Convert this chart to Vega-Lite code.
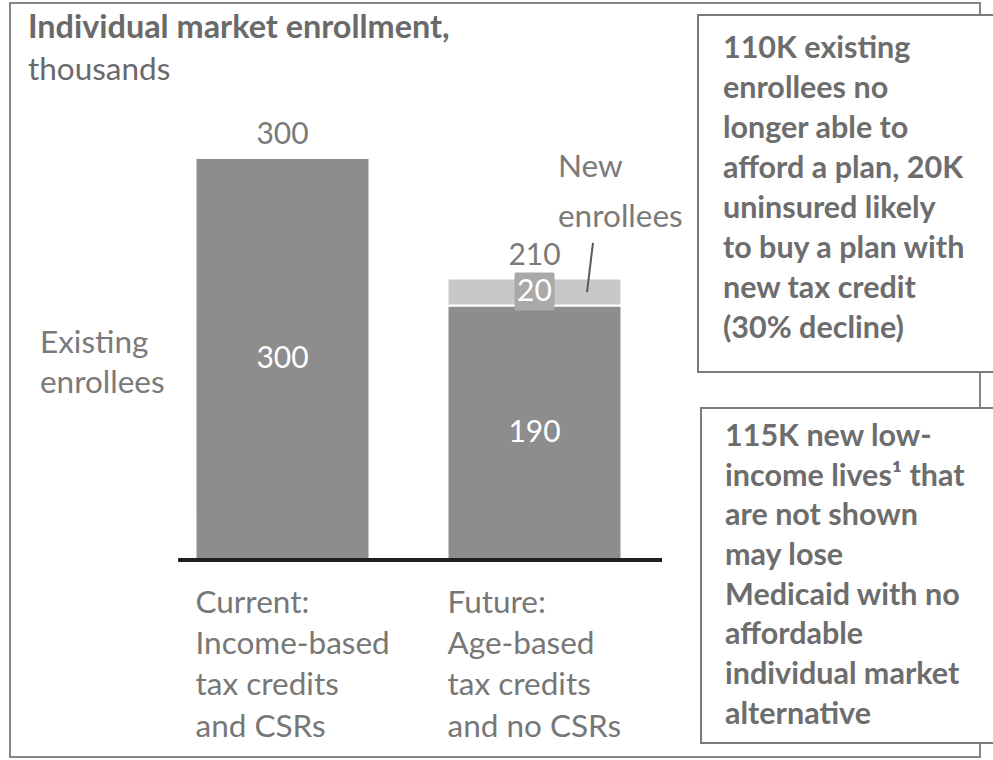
{
  "$schema": "https://vega.github.io/schema/vega-lite/v6.json",
  "autosize": {"type": "none"},
  "padding": {"left": 10, "top": 3, "right": 13, "bottom": 3},
  "background": "white",
  "width": 970,
  "height": 754,
  "config": {
    "view": {"stroke": "#858585", "strokeWidth": 2, "fill": "white"},
    "font": "Lato",
    "text": {"font": "Lato"}
  },
  "datasets": {
    "bars": [
      {"scenario": "Current", "segment": "Existing enrollees", "value": 300},
      {"scenario": "Future", "segment": "Existing enrollees", "value": 190},
      {"scenario": "Future", "segment": "New enrollees", "value": 20}
    ],
    "notes": [
      {"id": "title", "text": "Individual market enrollment,"},
      {"id": "unit", "text": "thousands"},
      {"id": "existing", "text": "Existing\nenrollees"},
      {"id": "new", "text": "New\nenrollees"}
    ],
    "cats": [
      {"scenario": "Current", "label": "Current:\nIncome-based\ntax credits\nand CSRs"},
      {"scenario": "Future", "label": "Future:\nAge-based\ntax credits\nand no CSRs"}
    ],
    "boxes": [
      {"box": "top", "text": "110K existing\nenrollees no\nlonger able to\nafford a plan, 20K\nuninsured likely\nto buy a plan with\nnew tax credit\n(30% decline)"},
      {"box": "bottom", "text": "115K new low-\nincome lives¹ that\nare not shown\nmay lose\nMedicaid with no\naffordable\nindividual market\nalternative"}
    ]
  },
  "layer": [
    {
      "data": {"name": "bars"},
      "mark": {"type": "bar", "stroke": "white", "strokeWidth": 2},
      "encoding": {
        "x": {"field": "scenario", "type": "nominal", "axis": null,
              "scale": {"domain": ["Current", "Future"], "range": [185.5, 611.5], "paddingInner": 0.3095, "paddingOuter": 0}},
        "y": {"field": "value", "type": "quantitative", "stack": "zero", "axis": null,
              "scale": {"domain": [-147, 415.67], "nice": false, "zero": false}},
        "color": {"field": "segment", "type": "nominal", "legend": null,
                  "scale": {"domain": ["Existing enrollees", "New enrollees"], "range": ["#8d8d8d", "#c8c8c8"]}},
        "order": {"field": "segment", "sort": "ascending"}
      }
    },
    {
      "data": {"name": "bars"},
      "transform": [
        {"stack": "value", "groupby": ["scenario"], "sort": [{"field": "segment"}], "as": ["v0", "v1"]},
        {"filter": "datum.segment === 'New enrollees'"}
      ],
      "mark": {"type": "bar", "color": "#a9a9a9", "width": {"band": 0.23}, "cornerRadius": 2, "yOffset": -6, "y2Offset": 5},
      "encoding": {
        "x": {"field": "scenario", "type": "nominal", "axis": null},
        "y": {"field": "v1", "type": "quantitative", "axis": null},
        "y2": {"field": "v0"}
      }
    },
    {
      "data": {"name": "bars"},
      "transform": [
        {"stack": "value", "groupby": ["scenario"], "sort": [{"field": "segment"}], "as": ["v0", "v1"]},
        {"calculate": "(datum.v0 + datum.v1) / 2", "as": "mid"}
      ],
      "mark": {"type": "text", "color": "white", "fontSize": 30, "baseline": "middle"},
      "encoding": {
        "x": {"field": "scenario", "type": "nominal", "axis": null},
        "y": {"field": "mid", "type": "quantitative", "axis": null},
        "text": {"field": "value", "type": "quantitative"}
      }
    },
    {
      "data": {"name": "bars"},
      "transform": [
        {"aggregate": [{"op": "sum", "field": "value", "as": "total"}], "groupby": ["scenario"]}
      ],
      "mark": {"type": "text", "color": "#7a7a7a", "fontSize": 30, "baseline": "middle", "dy": -23},
      "encoding": {
        "x": {"field": "scenario", "type": "nominal", "axis": null},
        "y": {"field": "total", "type": "quantitative", "axis": null},
        "text": {"field": "total", "type": "quantitative"}
      }
    },
    {
      "data": {"values": [{}]},
      "mark": {"type": "rule", "color": "#1e1e1e", "strokeWidth": 4},
      "encoding": {
        "x": {"datum": "Current", "type": "nominal", "bandPosition": -0.1, "axis": null},
        "x2": {"datum": "Future", "bandPosition": 1.233},
        "y": {"datum": 0, "type": "quantitative", "axis": null}
      }
    },
    {
      "data": {"values": [{}]},
      "mark": {"type": "rule", "color": "#5a5a5a", "strokeWidth": 2},
      "encoding": {
        "x": {"datum": "Future", "type": "nominal", "bandPosition": 0.836, "axis": null},
        "x2": {"datum": "Future", "bandPosition": 0.802},
        "y": {"datum": 236.6, "type": "quantitative", "axis": null},
        "y2": {"datum": 200}
      }
    },
    {
      "data": {"name": "notes"},
      "transform": [{"filter": "datum.id === 'title'"}],
      "mark": {"type": "text", "align": "left", "baseline": "top", "fontSize": 32.4, "fontWeight": "bold", "color": "#6a6a6a"},
      "encoding": {
        "x": {"datum": "Current", "type": "nominal", "bandPosition": -0.963, "axis": null},
        "y": {"datum": 408.7, "type": "quantitative", "axis": null},
        "text": {"field": "text"}
      }
    },
    {
      "data": {"name": "notes"},
      "transform": [{"filter": "datum.id === 'unit'"}],
      "mark": {"type": "text", "align": "left", "baseline": "top", "fontSize": 31.5, "color": "#6a6a6a"},
      "encoding": {
        "x": {"datum": "Current", "type": "nominal", "bandPosition": -0.963, "axis": null},
        "y": {"datum": 377.2, "type": "quantitative", "axis": null},
        "text": {"field": "text"}
      }
    },
    {
      "data": {"name": "notes"},
      "transform": [{"filter": "datum.id === 'existing'"}],
      "mark": {"type": "text", "align": "left", "baseline": "top", "fontSize": 31.5, "color": "#7a7a7a", "lineBreak": "\n", "lineHeight": 40},
      "encoding": {
        "x": {"datum": "Current", "type": "nominal", "bandPosition": -0.894, "axis": null},
        "y": {"datum": 173.4, "type": "quantitative", "axis": null},
        "text": {"field": "text"}
      }
    },
    {
      "data": {"name": "notes"},
      "transform": [{"filter": "datum.id === 'new'"}],
      "mark": {"type": "text", "align": "left", "baseline": "top", "fontSize": 31.5, "color": "#7a7a7a", "lineBreak": "\n", "lineHeight": 50},
      "encoding": {
        "x": {"datum": "Future", "type": "nominal", "bandPosition": 0.635, "axis": null},
        "y": {"datum": 304.7, "type": "quantitative", "axis": null},
        "text": {"field": "text"}
      }
    },
    {
      "data": {"name": "cats"},
      "mark": {"type": "text", "align": "left", "baseline": "top", "fontSize": 31.5, "color": "#777777", "lineBreak": "\n", "lineHeight": 41.3},
      "encoding": {
        "x": {"field": "scenario", "type": "nominal", "bandPosition": 0, "axis": null},
        "y": {"datum": -20.7, "type": "quantitative", "axis": null},
        "text": {"field": "label"}
      }
    },
    {
      "data": {"name": "boxes"},
      "transform": [{"filter": "datum.box === 'top'"}],
      "layer": [
        {
          "mark": {"type": "rect", "fill": "white", "stroke": "#7a7a7a", "strokeWidth": 2},
          "encoding": {
            "x": {"datum": "Future", "type": "nominal", "bandPosition": 1.4397, "axis": null},
            "x2": {"datum": "Future", "bandPosition": 3.17},
            "y": {"datum": 406.7, "type": "quantitative", "axis": null},
            "y2": {"datum": 140.3}
          }
        },
        {
          "mark": {"type": "text", "align": "left", "baseline": "top", "fontSize": 30.5, "fontWeight": "bold", "color": "#6d6d6d", "lineBreak": "\n", "lineHeight": 40},
          "encoding": {
            "x": {"datum": "Future", "type": "nominal", "bandPosition": 1.583, "axis": null},
            "y": {"datum": 392.5, "type": "quantitative", "axis": null},
            "text": {"field": "text"}
          }
        }
      ]
    },
    {
      "data": {"name": "boxes"},
      "transform": [{"filter": "datum.box === 'bottom'"}],
      "layer": [
        {
          "mark": {"type": "rect", "fill": "white", "stroke": "#7a7a7a", "strokeWidth": 2},
          "encoding": {
            "x": {"datum": "Future", "type": "nominal", "bandPosition": 1.457, "axis": null},
            "x2": {"datum": "Future", "bandPosition": 3.17},
            "y": {"datum": 113.4, "type": "quantitative", "axis": null},
            "y2": {"datum": -136.6}
          }
        },
        {
          "mark": {"type": "text", "align": "left", "baseline": "top", "fontSize": 30.5, "fontWeight": "bold", "color": "#6d6d6d", "lineBreak": "\n", "lineHeight": 39.7},
          "encoding": {
            "x": {"datum": "Future", "type": "nominal", "bandPosition": 1.595, "axis": null},
            "y": {"datum": 103, "type": "quantitative", "axis": null},
            "text": {"field": "text"}
          }
        }
      ]
    }
  ]
}
